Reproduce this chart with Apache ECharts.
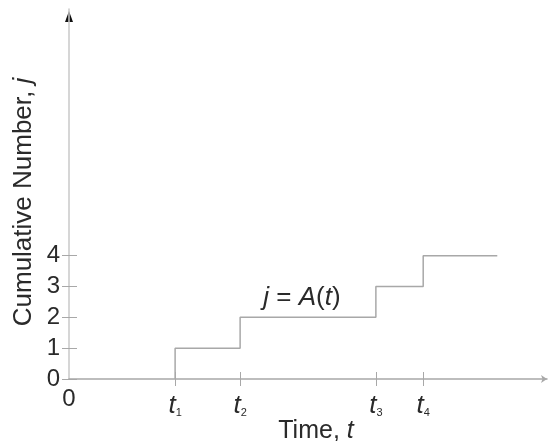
<!DOCTYPE html>
<html>
<head>
<meta charset="utf-8">
<script src="https://cdn.jsdelivr.net/npm/echarts@6/dist/echarts.min.js"></script>
<style>
html,body{margin:0;padding:0;background:#fff;}
#chart{width:550px;height:441px;}
</style>
</head>
<body>
<div id="chart"></div>
<script>
// Data
const arrivalTimes = [22.2, 35.8, 64.2, 74.1];
const arrivalLabels = ['1', '2', '3', '4'];
const endTime = 89.6;
const cumulativeCounts = [0, 1, 2, 3, 4];
const yTickValues = [0, 1, 2, 3, 4];
const xAxisMax = 100;
const yAxisMax = 12;

const FONT = 'Liberation Sans, Arial, sans-serif';
const TEXT = '#2a2a2a';
const GREY = '#a8a8a8';

// step data: (t_k, k-1) ... then end
const stepData = arrivalTimes.map((t, i) => [t, cumulativeCounts[i]]);
stepData.push([endTime, cumulativeCounts[cumulativeCounts.length - 1]]);

const xLabelValues = [0].concat(arrivalTimes);

const chart = echarts.init(document.getElementById('chart'), null, {renderer: 'canvas'});
chart.setOption({
  animation: false,
  backgroundColor: '#fff',
  grid: {left: 69, right: 3, top: 9, bottom: 62, containLabel: false},
  xAxis: [{
    type: 'value', min: 0, max: xAxisMax,
    splitLine: {show: false},
    axisLine: {show: true, onZero: false, lineStyle: {color: GREY, width: 1.5},
      symbol: ['none', 'arrow'], symbolSize: [6, 6]},
    axisTick: {show: true, customValues: arrivalTimes, length: 7, lineStyle: {color: GREY, width: 1}},
    axisLabel: {
      show: true, customValues: xLabelValues, margin: 8,
      formatter: function (v) {
        if (v === 0) return '{n|0}';
        const i = arrivalTimes.indexOf(v);
        return '{t|t}{s|' + arrivalLabels[i] + '}';
      },
      rich: {
        n: {fontFamily: FONT, fontSize: 24, color: TEXT, padding: [0, 0, 0, 0]},
        t: {fontFamily: FONT, fontSize: 26, fontStyle: 'italic', color: TEXT, padding: [6, 0, 0, 0]},
        s: {fontFamily: FONT, fontSize: 11, color: TEXT, padding: [20, 0, 0, 0]}
      }
    }
  }, {
    type: 'value', min: 0, max: xAxisMax, position: 'bottom',
    splitLine: {show: false}, axisLine: {show: false},
    axisTick: {show: true, inside: true, customValues: arrivalTimes, length: 7, lineStyle: {color: GREY, width: 1}},
    axisLabel: {show: false}
  }],
  yAxis: [{
    type: 'value', min: 0, max: yAxisMax,
    splitLine: {show: false},
    axisLine: {show: true, onZero: false, lineStyle: {color: '#c8c8c8', width: 1.5}},
    axisTick: {show: true, customValues: yTickValues, length: 7, lineStyle: {color: GREY, width: 1}},
    axisLabel: {show: true, customValues: yTickValues, margin: 9, fontFamily: FONT, fontSize: 24, color: TEXT}
  }, {
    type: 'value', min: 0, max: yAxisMax, position: 'left',
    splitLine: {show: false}, axisLine: {show: false},
    axisTick: {show: true, inside: true, customValues: yTickValues, length: 8, lineStyle: {color: GREY, width: 1}},
    axisLabel: {show: false}
  }],
  series: [{
    type: 'line', step: 'start', data: stepData,
    showSymbol: false, symbol: 'none',
    lineStyle: {color: GREY, width: 1.5},
    silent: true
  }],
  graphic: [
    {type: 'polygon', shape: {points: [[69, 11], [65, 22], [73, 22]]}, style: {fill: '#111'}},
    {type: 'text', x: 24, y: 202, rotation: Math.PI / 2,
      style: {text: '{a|Cumulative Number, }{b|j}', align: 'center', verticalAlign: 'middle',
        rich: {a: {fontFamily: FONT, fontSize: 26, fill: TEXT}, b: {fontFamily: FONT, fontSize: 26, fontStyle: 'italic', fill: TEXT}}}},
    {type: 'text', x: 316, y: 431,
      style: {text: '{a|Time, }{b|t}', align: 'center', verticalAlign: 'middle',
        rich: {a: {fontFamily: FONT, fontSize: 25, fill: TEXT}, b: {fontFamily: FONT, fontSize: 25, fontStyle: 'italic', fill: TEXT}}}},
    {type: 'text', x: 302, y: 298,
      style: {text: '{b|j}{a| = }{b|A}{a|(}{b|t}{a|)}', align: 'center', verticalAlign: 'middle',
        rich: {a: {fontFamily: FONT, fontSize: 26, fill: TEXT}, b: {fontFamily: FONT, fontSize: 26, fontStyle: 'italic', fill: TEXT}}}}
  ]
});
</script>
</body>
</html>
